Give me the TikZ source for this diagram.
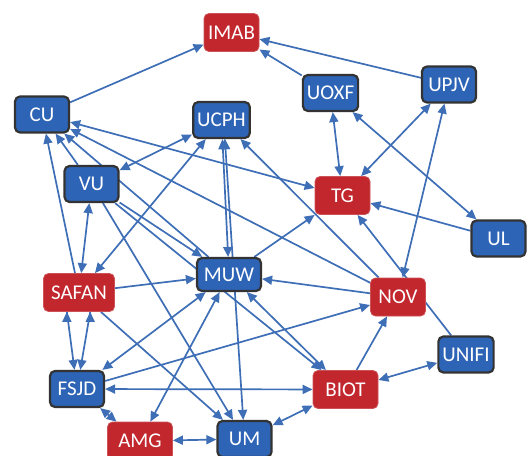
\documentclass[tikz,border=0pt]{standalone}
\usepackage{fontspec}
\setmainfont{Carlito}
\usetikzlibrary{arrows.meta,backgrounds}
\definecolor{boxblue}{RGB}{46,100,182}
\definecolor{boxred}{RGB}{193,39,45}
\definecolor{linkblue}{RGB}{62,110,182}

\begin{document}
\begin{tikzpicture}[x=1pt, y=-1pt, >={Triangle[length=10pt,width=9pt]},
    bnode/.style={fill=boxblue, draw=black!80, line width=2.2pt, rounded corners=5pt, text=white, minimum width=54pt, minimum height=36pt, inner sep=4pt, font=\fontsize{21}{25}\selectfont},
    rnode/.style={fill=boxred, draw=boxred!80!white, line width=0.8pt, rounded corners=5pt, text=white, minimum width=55pt, minimum height=38pt, inner sep=4pt, font=\fontsize{21}{25}\selectfont},
    link/.style={draw=linkblue, fill=linkblue, line width=1.7pt}]
    \useasboundingbox (0, 0) rectangle (532, 455);

    \node[rnode] (IMAB) at (231.5, 32.5) {IMAB};
    \node[bnode] (CU) at (42, 114.5) {CU};
    \node[bnode] (UCPH) at (221.5, 120) {UCPH};
    \node[bnode] (UOXF) at (330.5, 93) {UOXF};
    \node[bnode] (UPJV) at (449, 84.5) {UPJV};
    \node[rnode] (TG) at (342.5, 195.5) {TG};
    \node[bnode] (VU) at (91.5, 184) {VU};
    \node[bnode] (UL) at (498.5, 238.5) {UL};
    \node[rnode, minimum width=71pt] (SAFAN) at (79, 292.5) {SAFAN};
    \node[bnode, minimum width=64pt, minimum height=33pt] (MUW) at (229, 274.5) {MUW};
    \node[rnode] (NOV) at (398, 297) {NOV};
    \node[bnode] (UNIFI) at (466, 354.5) {UNIFI};
    \node[bnode] (FSJD) at (77, 389) {FSJD};
    \node[rnode, minimum width=65pt] (BIOT) at (345.5, 389.5) {BIOT};
    \node[rnode, minimum width=65pt] (AMG) at (140, 441) {AMG};
    \node[bnode] (UM) at (244.5, 439) {UM};

    \begin{scope}[on background layer]
    % top
    \draw[link, ->] (CU) edge (IMAB) ;
    \draw[link, ->] (UPJV) edge (IMAB) ;
    \draw[link, ->] (UOXF) edge (IMAB) ;
    \draw[link, <->] (UOXF) edge (TG) ;
    \draw[link, <->] (UOXF) edge (UL) ;
    \draw[link, <->] (UPJV) edge (TG) ;
    \draw[link, <->] (UPJV) edge (NOV) ;
    \draw[link, ->] (UL) edge (TG) ;
    \draw[link, ->] (UNIFI) edge (TG) ;
    \draw[link, <->] (CU) edge (TG) ;
    \draw[link, ->] (MUW) edge (TG) ;
    % from NOV
    \draw[link, ->] (NOV) edge (CU) ;
    \draw[link, ->] (NOV) edge (UCPH) ;
    \draw[link, ->] (NOV) edge (MUW) ;
    \draw[link, ->] (FSJD) edge (NOV) ;
    \draw[link, ->] (BIOT) edge (NOV) ;
    % bottom
    \draw[link, <->] (UNIFI) edge (BIOT) ;
    \draw[link, <->] (BIOT) edge (UM) ;
    \draw[link, <->] (AMG) edge (UM) ;
    \draw[link, <->] (FSJD) edge (AMG) ;
    \draw[link, <->] (FSJD) edge (BIOT) ;
    \draw[link, <->] (FSJD) edge (MUW) ;
    \draw[link, <->] (AMG) edge (MUW) ;
    \draw[link, <->] (MUW) edge (BIOT) ;
    % left and middle
    \draw[link, <->] (UCPH) edge (MUW) ;
    \draw[link, <->] (UCPH.-80) edge (UM) ;
    \draw[link, <->] (UCPH) edge (SAFAN) ;
    \draw[link, <->] (VU) edge (UCPH) ;
    \draw[link, ->] (VU) edge (CU) ;
    \draw[link, ->] (MUW) edge (CU) ;
    \draw[link, ->] (SAFAN) edge (CU) ;
    \draw[link, <->] (VU) edge (SAFAN) ;
    \draw[link, ->] (SAFAN.238) edge (FSJD) ;
    \draw[link, ->] (SAFAN.300) edge (FSJD) ;
    \draw[link, ->] (SAFAN) edge (MUW) ;
    \draw[link, ->] (SAFAN) edge (UM) ;
    \draw[link, ->] (VU) edge (UM) ;
    \draw[link, ->] (VU) edge (BIOT) ;
    \draw[link, ->] (VU) edge (MUW) ;
    \end{scope}
\end{tikzpicture}
\end{document}
